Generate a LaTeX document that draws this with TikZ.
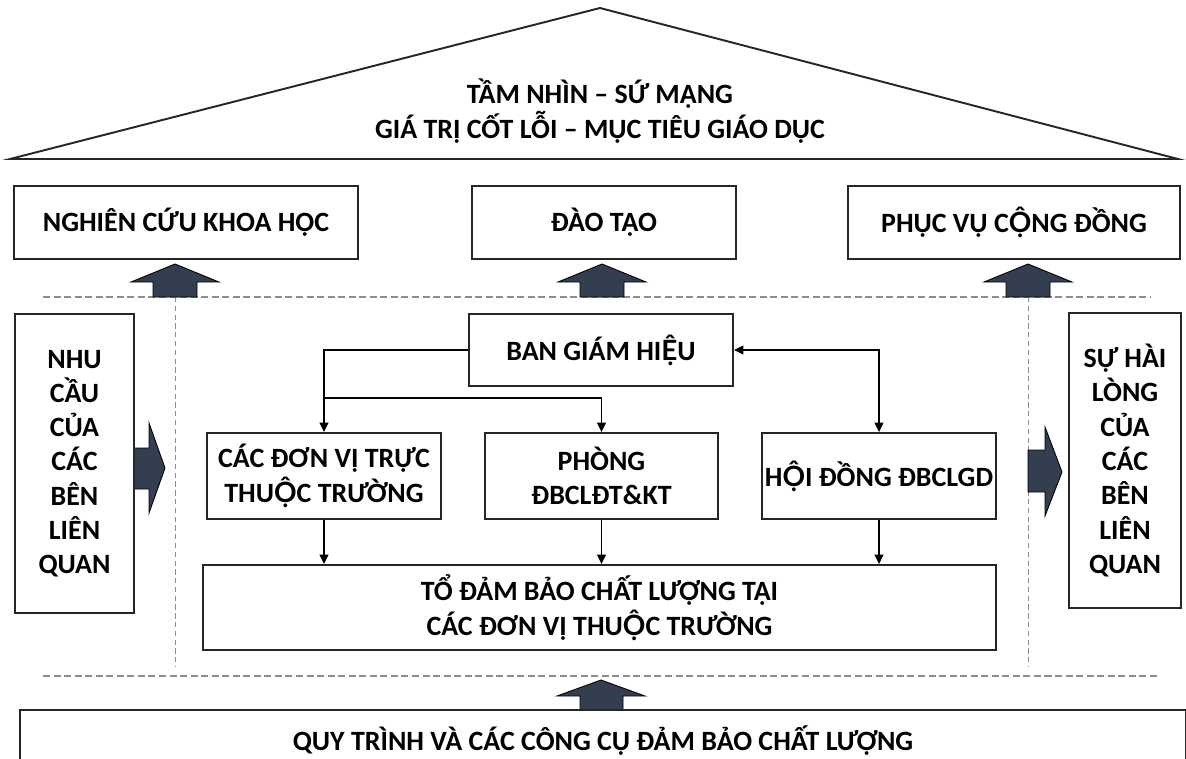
\documentclass[tikz,border=0pt]{standalone}
\usepackage{fontspec}
\setmainfont{Carlito}
\newfontfamily\latofont{Lato}
% Carlito dam thieu dau mu tren O/E co cham duoi
\newcommand{\Ocd}{{\latofont Ộ}}
\newcommand{\Ecd}{{\latofont Ệ}}
\usetikzlibrary{arrows.meta,positioning,calc}
\definecolor{slate}{HTML}{333F50}
\definecolor{guidegray}{HTML}{8C8C8C}
\tikzset{
  >={Triangle[length=1.9mm,width=1.8mm]},
  % khung
  box/.style={draw=black!85,line width=1.1pt,fill=white,inner xsep=0.5pt,inner ysep=2pt,
              align=center,font=\fontsize{15.9}{19.5}\selectfont\bfseries},
  roof/.style={draw=black!85,line width=1.1pt},
  conn/.style={draw=black,line width=0.8pt},
  % duong gach
  guide/.style={draw=guidegray,line width=0.7pt,dash pattern=on 4pt off 2pt},
  vguide/.style={draw=guidegray,line width=0.5pt,dash pattern=on 3pt off 2pt},
  blk/.style={fill=slate,draw=black,line width=0.5pt},
}
\begin{document}
\begin{tikzpicture}[x=0.02cm,y=-0.02cm]
\useasboundingbox (0,0) rectangle (1186,758);
  % mai nha
  \draw[roof] (10,159) -- (600,8) -- (1178,159) -- cycle;
  \node[align=center,font=\fontsize{15.9}{19.9}\selectfont\bfseries] (tamnhin) at (600,111)
    {TẦM NHÌN – SỨ MẠNG\\GIÁ TRỊ CỐT LỖI – MỤC TIÊU GIÁO DỤC};
  % ba nhiem vu
  \node[box,minimum width=6.88cm,minimum height=1.46cm] (nckh) at (186,222.5) {NGHIÊN CỨU KHOA HỌC};
  \node[box,minimum width=5.28cm,minimum height=1.46cm] (daotao) at (604,222.5) {ĐÀO TẠO};
  \node[box,minimum width=6.64cm,minimum height=1.46cm] (pvcd) at (1014,222.5) {PHỤC VỤ C\Ocd{}NG ĐỒNG};
  % duong gach
  \draw[guide] (43,297) -- (1150,297);
  \draw[guide] (43,676) -- (1160,676);
  \draw[vguide] (175,297) -- (175,667);
  \draw[vguide] (1028,297) -- (1028,667);
  % mui ten khoi
  \foreach \x in {175,602,1028}
    \draw[blk] ({\x-22},297) -- ({\x-22},282) -- ({\x-44},282) -- (\x,264)
      -- ({\x+44},282) -- ({\x+22},282) -- ({\x+22},297) -- cycle;
  \draw[blk] (580,711) -- (580,696) -- (557,696) -- (601,680) -- (645,696)
    -- (623,696) -- (623,711) -- cycle;
  \draw[blk] (134,448) -- (149,448) -- (149,423) -- (165,468) -- (149,513)
    -- (149,489) -- (134,489) -- cycle;
  \draw[blk] (1028,450) -- (1045,450) -- (1045,427) -- (1062,472) -- (1045,516)
    -- (1045,492) -- (1028,492) -- cycle;
  % hai ben
  \node[box,minimum width=2.38cm,minimum height=5.98cm] (nhucau) at (74.5,463.5)
    {NHU\\CẦU\\CỦA\\CÁC\\BÊN\\LIÊN\\QUAN};
  \node[box,minimum width=2.24cm,minimum height=5.9cm] (hailong) at (1125,460.5)
    {SỰ HÀI\\LÒNG\\CỦA\\CÁC\\BÊN\\LIÊN\\QUAN};
  % co cau
  \node[box,minimum width=5.28cm,minimum height=1.44cm] (bgh) at (601,350) {BAN GIÁM HI\Ecd{}U};
  \node[box,minimum width=4.68cm,minimum height=1.72cm] (donvi) at (324,476)
    {CÁC ĐƠN VỊ TRỰC\\THU\Ocd{}C TRƯỜNG};
  \node[box,minimum width=4.66cm,minimum height=1.72cm] (phong) at (601.5,476)
    {PHÒNG\\ĐBCLĐT\&KT};
  \node[box,minimum width=4.68cm,minimum height=1.72cm] (hoidong) at (879,476) {H\Ocd{}I ĐỒNG ĐBCLGD};
  \node[box,minimum width=15.86cm,minimum height=1.7cm] (todbcl) at (599.5,607.5)
    {TỔ ĐẢM BẢO CHẤT LƯỢNG TẠI\\CÁC ĐƠN VỊ THU\Ocd{}C TRƯỜNG};
  \coordinate (split) at (324,398);
  \draw[conn,->] (bgh.west) -| (donvi.north);
  \draw[conn,->] (split) -| (phong.north);
  \draw[conn,<->] (bgh.east) -| (hoidong.north);
  \draw[conn,->] (donvi.south) -- (donvi.south |- todbcl.north);
  \draw[conn,->] (phong.south) -- (phong.south |- todbcl.north);
  \draw[conn,->] (hoidong.south) -- (hoidong.south |- todbcl.north);
  % nen tang
  \node[box,draw=none,minimum width=23.28cm,minimum height=1.2cm] (quytrinh) at (603,741)
    {QUY TRÌNH VÀ CÁC CÔNG CỤ ĐẢM BẢO CHẤT LƯỢNG};
  \draw[roof] (quytrinh.south west) -- (quytrinh.north west) -- (quytrinh.north east)
    -- (quytrinh.south east);
\end{tikzpicture}
\end{document}
